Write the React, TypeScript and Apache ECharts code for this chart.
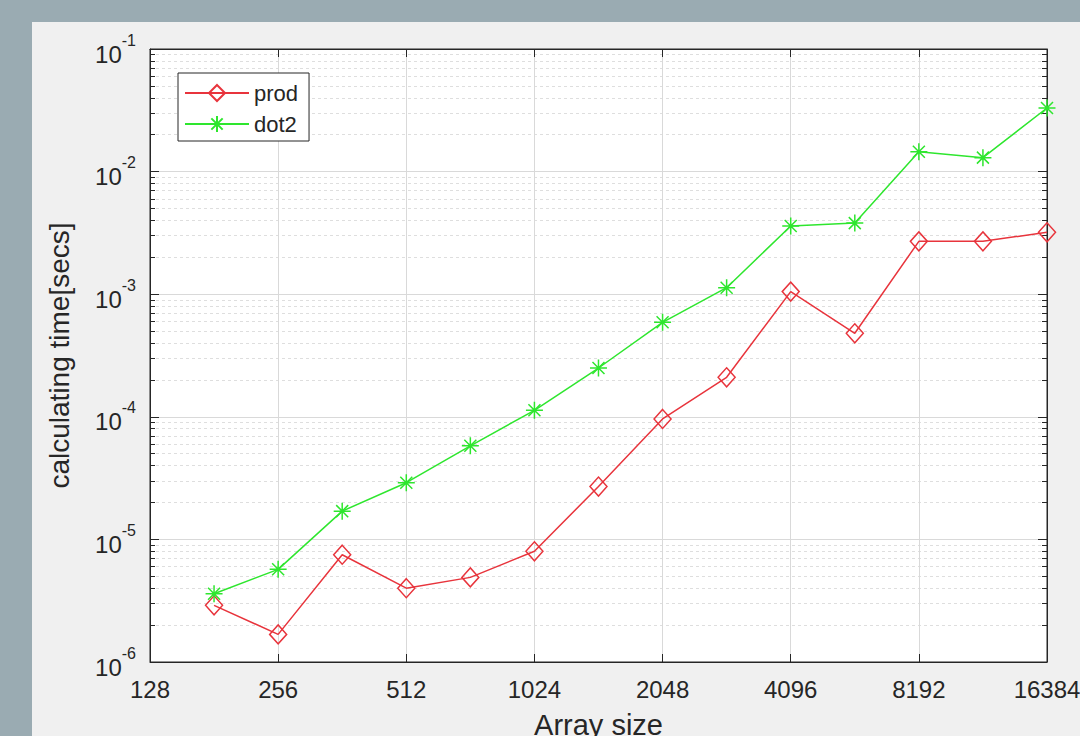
import React, { useEffect, useRef } from "react";
import * as echarts from "echarts";

const arraySizes = [181, 256, 362, 512, 724, 1024, 1448, 2048, 2896, 4096, 5793, 8192, 11585, 16384];
const prodTimes = [2.9e-6, 1.68e-6, 7.5e-6, 4.0e-6, 4.9e-6, 8.0e-6, 2.7e-5, 9.6e-5, 2.1e-4, 1.05e-3, 4.8e-4, 2.7e-3, 2.7e-3, 3.2e-3];
const dot2Times = [3.6e-6, 5.7e-6, 1.7e-5, 2.9e-5, 5.8e-5, 1.13e-4, 2.5e-4, 5.9e-4, 1.13e-3, 3.6e-3, 3.8e-3, 1.45e-2, 1.3e-2, 3.3e-2];
const xTickValues = [128, 256, 512, 1024, 2048, 4096, 8192, 16384];
const yTickValues = [1e-6, 1e-5, 1e-4, 1e-3, 1e-2, 1e-1];
const yMinorValues = [
  2e-6, 3e-6, 4e-6, 5e-6, 6e-6, 7e-6, 8e-6, 9e-6,
  2e-5, 3e-5, 4e-5, 5e-5, 6e-5, 7e-5, 8e-5, 9e-5,
  2e-4, 3e-4, 4e-4, 5e-4, 6e-4, 7e-4, 8e-4, 9e-4,
  2e-3, 3e-3, 4e-3, 5e-3, 6e-3, 7e-3, 8e-3, 9e-3,
  2e-2, 3e-2, 4e-2, 5e-2, 6e-2, 7e-2, 8e-2, 9e-2,
];

const FONT = "'Liberation Sans', Arial, Helvetica, sans-serif";
const INK = "#262626";
const RED = "#e8343c";
const GREEN = "#2ee62e";
const ASTERISK =
  "path://M0,-10L0,10M-10,0L10,0M-7.07,-7.07L7.07,7.07M-7.07,7.07L7.07,-7.07";

export default function App() {
  const ref = useRef<HTMLDivElement>(null);

  useEffect(() => {
    if (!ref.current) return;
    const chart = echarts.init(ref.current, null, { renderer: "svg" });
    const yLabel = (v: number) => `{b|10}{s|${Math.round(Math.log10(v))}}`;
    const yBase = {
      type: "log" as const,
      logBase: 10,
      min: yTickValues[0],
      max: yTickValues[yTickValues.length - 1],
      splitNumber: yTickValues.length - 1,
    };
    const xBase = {
      type: "log" as const,
      logBase: 2,
      min: xTickValues[0],
      max: xTickValues[xTickValues.length - 1],
      splitNumber: xTickValues.length - 1,
    };
    chart.setOption({
      animation: false,
      backgroundColor: "#9aabb2",
      textStyle: { fontFamily: FONT },
      graphic: [
        {
          type: "rect",
          z: -10,
          shape: { x: 32, y: 22, width: 1100, height: 760 },
          style: { fill: "#f0f0f0" },
        },
      ],
      grid: {
        left: 150,
        top: 49,
        right: 33,
        bottom: 74,
        containLabel: false,
        outerBoundsMode: "none",
        show: true,
        backgroundColor: "#ffffff",
        borderColor: INK,
        borderWidth: 1,
      },
      legend: {
        left: 178,
        top: 73,
        orient: "vertical",
        backgroundColor: "#ffffff",
        borderColor: INK,
        borderWidth: 1,
        borderRadius: 0,
        padding: [9, 11, 6, 6],
        itemGap: 9,
        itemWidth: 64,
        itemHeight: 20,
        textStyle: { fontSize: 22, color: INK, fontFamily: FONT },
        data: ["prod", "dot2"],
      },
      xAxis: [
        {
          ...xBase,
          position: "bottom",
          name: "Array size",
          nameLocation: "middle",
          nameGap: 48,
          nameTextStyle: { fontSize: 29, color: INK, fontFamily: FONT },
          axisLine: { show: true, onZero: false, lineStyle: { color: INK, width: 1 } },
          axisTick: { show: true, inside: true, length: 8, lineStyle: { color: INK } },
          axisLabel: {
            fontSize: 24,
            color: INK,
            margin: 15,
            fontFamily: FONT,
            hideOverlap: false,
            formatter: (v: number) => String(Math.round(v)),
          },
          splitLine: { show: true, lineStyle: { color: "#d9d9d9", width: 1 } },
        },
        {
          ...xBase,
          position: "top",
          axisLine: { show: true, onZero: false, lineStyle: { color: INK, width: 1 } },
          axisTick: { show: true, inside: true, length: 8, lineStyle: { color: INK } },
          axisLabel: { show: false },
          splitLine: { show: false },
        },
      ],
      yAxis: [
        {
          ...yBase,
          position: "left",
          name: "calculating time[secs]",
          nameLocation: "middle",
          nameGap: 77,
          nameTextStyle: { fontSize: 28, color: INK, fontFamily: FONT },
          axisLine: { show: true, onZero: false, lineStyle: { color: INK, width: 1 } },
          axisTick: { show: true, inside: true, length: 9, lineStyle: { color: INK } },
          axisLabel: {
            margin: 14,
            formatter: yLabel,
            rich: {
              b: { fontSize: 24, color: INK, fontFamily: FONT, lineHeight: 34, verticalAlign: "bottom" },
              s: { fontSize: 16, color: INK, fontFamily: FONT, lineHeight: 16, verticalAlign: "top" },
            },
          },
          splitLine: { show: true, lineStyle: { color: "#d9d9d9", width: 1 } },
        },
        {
          ...yBase,
          position: "left",
          axisLine: { show: false },
          axisTick: {
            show: true,
            inside: true,
            length: 5,
            customValues: yMinorValues,
            lineStyle: { color: INK },
          },
          axisLabel: { show: false },
          splitLine: { show: true, lineStyle: { color: "#dedede", width: 1, type: [3, 3] } },
        },
        {
          ...yBase,
          position: "right",
          axisLine: { show: true, onZero: false, lineStyle: { color: INK, width: 1 } },
          axisTick: { show: true, inside: true, length: 9, lineStyle: { color: INK } },
          axisLabel: { show: false },
          splitLine: { show: false },
        },
        {
          ...yBase,
          position: "right",
          axisLine: { show: false },
          axisTick: {
            show: true,
            inside: true,
            length: 5,
            customValues: yMinorValues,
            lineStyle: { color: INK },
          },
          axisLabel: { show: false },
          splitLine: { show: false },
        },
      ],
      series: [
        {
          name: "prod",
          type: "line",
          xAxisIndex: 0,
          yAxisIndex: 0,
          data: arraySizes.map((s, i) => [s, prodTimes[i]]),
          symbol: "diamond",
          symbolSize: [17, 19],
          lineStyle: { color: RED, width: 1.5 },
          itemStyle: { color: "transparent", borderColor: RED, borderWidth: 1.5 },
          z: 3,
        },
        {
          name: "dot2",
          type: "line",
          xAxisIndex: 0,
          yAxisIndex: 0,
          data: arraySizes.map((s, i) => [s, dot2Times[i]]),
          symbol: ASTERISK,
          symbolSize: 17,
          lineStyle: { color: GREEN, width: 1.5 },
          itemStyle: { color: "transparent", borderColor: GREEN, borderWidth: 1.5 },
          z: 4,
        },
      ],
    });
    return () => chart.dispose();
  }, []);

  return (
    <div
      ref={ref}
      style={{ position: "fixed", left: 0, top: 0, width: 1080, height: 736 }}
    />
  );
}
